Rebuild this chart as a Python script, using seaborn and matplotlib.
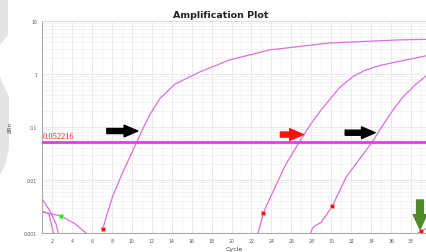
import numpy as np
import pandas as pd
import matplotlib
matplotlib.use("Agg")
import matplotlib.pyplot as plt
import seaborn as sns
from matplotlib.patches import Polygon
from matplotlib.ticker import LogLocator, FixedLocator, MultipleLocator

# amplification curves (cycle, delta Rn)
curve1_cycle = [7.1, 7.5, 8.1, 9.1, 10.5, 11.2, 11.8, 12.8, 14.3, 16.8, 19.8, 23.8, 29.8, 36.8, 39.5]
curve1_rn = [0.0012, 0.0022, 0.005, 0.014, 0.052, 0.1, 0.17, 0.34, 0.64, 1.09, 1.84, 2.84, 3.85, 4.4, 4.5]

curve2_cycle = [22.6, 23.2, 24.0, 25.4, 26.8, 27.9, 28.9, 29.9, 30.9, 32.2, 33.4, 34.9, 36.9, 39.5]
curve2_rn = [0.0009, 0.0024, 0.0052, 0.019, 0.052, 0.11, 0.2, 0.34, 0.57, 0.9, 1.18, 1.45, 1.75, 2.2]

curve3_cycle = [27.8, 28.2, 29.0, 30.1, 31.5, 34.1, 35.2, 36.2, 37.2, 38.4, 39.5]
curve3_rn = [0.0009, 0.0013, 0.0016, 0.0032, 0.0114, 0.052, 0.11, 0.21, 0.37, 0.62, 0.92]

curve4_cycle = [38.4, 39.0, 39.5]
curve4_rn = [0.0009, 0.0011, 0.0012]

# noisy baseline traces at the start
noise_a_cycle = [1.0, 1.8, 2.4, 2.7]
noise_a_rn = [0.0044, 0.0026, 0.0015, 0.0009]
noise_b_cycle = [1.0, 1.7, 2.2]
noise_b_rn = [0.0026, 0.0023, 0.0009]
noise_c_cycle = [1.0, 2.9, 4.3, 5.7]
noise_c_rn = [0.0025, 0.0021, 0.0015, 0.0009]

# Ct markers
ct_cycle = [7.1, 23.2, 30.1, 39.0]
ct_rn = [0.0012, 0.0024, 0.0032, 0.0011]
green_cycle = [2.9]
green_rn = [0.0021]

threshold = 0.052216
x_ticks = list(range(2, 40, 2))
y_ticks = [0.001, 0.01, 0.1, 1, 10]
y_tick_labels = ["0.001", "0.01", "0.1", "1", "10"]

curve_color = "#dc6fe0"
line_color = "#e43be4"

sns.set_style("white")
fig = plt.figure(figsize=(4.26, 2.53), dpi=100)
ax = fig.add_axes([42 / 426, 1 - 234 / 253, 1 - 42 / 426, (234 - 22) / 253])

# grey shapes at the left edge
for pts in ([(0, 0), (8, 0), (8, 36), (0, 46)],
            [(0, 78), (9, 98), (9, 150), (5, 166), (0, 176)]):
    fig.add_artist(Polygon([(x / 426, 1 - y / 253) for x, y in pts],
                           closed=True, transform=fig.transFigure,
                           facecolor="#e4e4e4", edgecolor="none", zorder=0))

curves = [(curve1_cycle, curve1_rn), (curve2_cycle, curve2_rn), (curve3_cycle, curve3_rn),
          (curve4_cycle, curve4_rn), (noise_a_cycle, noise_a_rn),
          (noise_b_cycle, noise_b_rn), (noise_c_cycle, noise_c_rn)]
for cx, cy in curves:
    sns.lineplot(x=cx, y=cy, ax=ax, color=curve_color, lw=0.9, sort=False, estimator=None)

ax.axhline(threshold, color=line_color, lw=2.0, zorder=3)
ax.text(1.1, threshold * 1.08, f"{threshold:.6f}", color="#ee1c1c", fontsize=6,
        family="Liberation Serif", va="bottom", ha="left", zorder=4)

sns.scatterplot(x=ct_cycle, y=ct_rn, ax=ax, color="#ee1111", marker="s", s=7,
                edgecolor="#ff9a9a", linewidth=0.6, zorder=5)
sns.scatterplot(x=green_cycle, y=green_rn, ax=ax, color="#22dd22", marker="s", s=7,
                edgecolor="#99ff99", linewidth=0.6, zorder=5)

# arrows pointing at the threshold crossings
arrow_style = "simple,head_length=0.7,head_width=0.6,tail_width=0.26"
for tail, tip, col in [((7.5, 0.084), (10.6, 0.084), "black"),
                       ((24.9, 0.072), (27.2, 0.072), "#ff1010"),
                       ((31.4, 0.078), (34.4, 0.078), "black")]:
    ax.annotate("", xy=tip, xytext=tail,
                arrowprops=dict(arrowstyle=arrow_style, color=col, mutation_scale=14,
                                shrinkA=0, shrinkB=0), zorder=6)
ax.annotate("", xy=(38.9, 0.00118), xytext=(38.9, 0.0042),
            arrowprops=dict(arrowstyle="simple,head_length=0.75,head_width=0.7,tail_width=0.35",
                            color="#4f8a2a", mutation_scale=14, shrinkA=0, shrinkB=0), zorder=6)

ax.set_yscale("log")
ax.set_xlim(1, 39.5)
ax.set_ylim(0.001, 10)
ax.xaxis.set_major_locator(FixedLocator(x_ticks))
ax.xaxis.set_minor_locator(MultipleLocator(1))
ax.set_yticks(y_ticks)
ax.set_yticklabels(y_tick_labels)
ax.yaxis.set_minor_locator(LogLocator(base=10, subs=np.arange(2, 10)))
ax.grid(True, which="major", color="#e6e6e6", lw=0.6)
ax.grid(True, which="minor", color="#f0f0f0", lw=0.5)
ax.tick_params(axis="both", which="major", labelsize=3.3, labelcolor="#555555",
               length=1.5, width=0.4, color="#999999", pad=2)
ax.tick_params(axis="both", which="minor", length=0)
for side in ["left", "bottom", "top"]:
    ax.spines[side].set_color("#aaaaaa")
    ax.spines[side].set_linewidth(0.8)
ax.spines["top"].set_color("#dddddd")
ax.spines["right"].set_visible(False)

ax.set_xlabel("Cycle", fontsize=4.5, color="#444444", labelpad=2)
ax.set_ylabel("ΔRn", fontsize=4, color="#444444", labelpad=8)
ax.set_title("Amplification Plot", fontsize=6.8, fontweight="bold", color="#222222",
             pad=3, x=0.466)

fig.savefig("out.png", dpi=100)
